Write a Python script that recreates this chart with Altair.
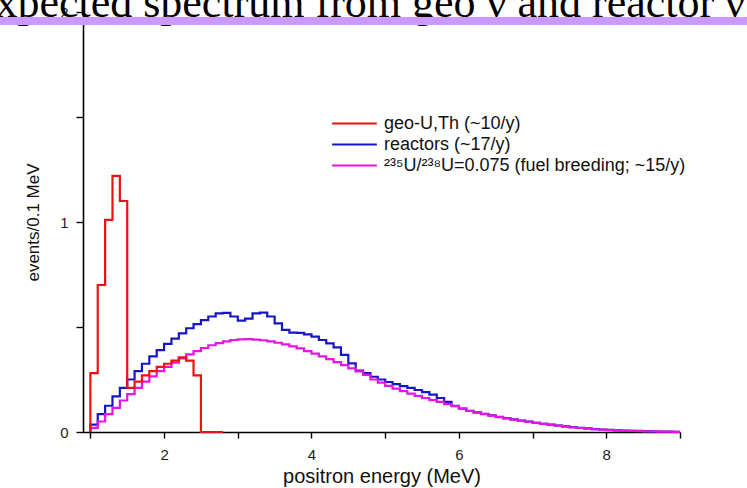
import altair as alt
import pandas as pd

TITLE = "Expected spectrum from geo \u03bd and reactor \u03bd"
SERIES = ["geo-U,Th (~10/y)", "reactors (~17/y)",
          "\u00b2\u00b3\u2075U/\u00b2\u00b3\u2078U=0.075 (fuel breeding; ~15/y)"]
COLORS = ["#ee1111", "#1616c4", "#e514e5"]

BIN_WIDTH = 0.1
FIRST_EDGE = 1.0

# geo-neutrino histogram, bins starting at 1.0 MeV
GEO = [0.28, 0.70, 1.01, 1.22, 1.10, 0.21, 0.24, 0.27, 0.29, 0.31,
       0.325, 0.34, 0.355, 0.34, 0.27]
GEO_ZERO_END = 2.8

REACTORS = [0.035, 0.085, 0.125, 0.17, 0.21, 0.25, 0.29, 0.325, 0.36, 0.39,
            0.42, 0.445, 0.47, 0.494, 0.514, 0.533, 0.55, 0.565, 0.567, 0.55,
            0.53, 0.54, 0.565, 0.568, 0.55, 0.517, 0.486, 0.473, 0.472, 0.465,
            0.454, 0.438, 0.422, 0.403, 0.367, 0.327, 0.292, 0.28, 0.263, 0.25,
            0.238, 0.228, 0.218, 0.21, 0.2, 0.19, 0.178, 0.162, 0.143, 0.125,
            0.112, 0.101, 0.093, 0.086, 0.079, 0.072, 0.066, 0.06, 0.054, 0.049,
            0.044, 0.039, 0.035, 0.031, 0.027, 0.023, 0.02, 0.017, 0.014, 0.012,
            0.01, 0.008, 0.007, 0.006, 0.005, 0.004, 0.003, 0.002, 0.002, 0.001]

BREEDING = [0.02, 0.05, 0.085, 0.115, 0.15, 0.18, 0.21, 0.24, 0.265, 0.29,
            0.31, 0.33, 0.35, 0.37, 0.385, 0.4, 0.413, 0.423, 0.432, 0.438,
            0.441, 0.442, 0.44, 0.437, 0.432, 0.425, 0.417, 0.408, 0.398, 0.385,
            0.373, 0.36, 0.347, 0.333, 0.318, 0.303, 0.289, 0.272, 0.25, 0.235,
            0.22, 0.207, 0.195, 0.183, 0.172, 0.162, 0.152, 0.143, 0.133, 0.123,
            0.111, 0.1, 0.092, 0.085, 0.078, 0.071, 0.065, 0.059, 0.053, 0.048,
            0.044, 0.039, 0.034, 0.03, 0.026, 0.022, 0.019, 0.016, 0.013, 0.011,
            0.009, 0.007, 0.006, 0.005, 0.004, 0.003, 0.003, 0.002, 0.002, 0.001]

X_TICKS = [1, 2, 3, 4, 5, 6, 7, 8, 9]
Y_TICKS = [0, 0.5, 1, 1.5, 2]


def step_rows(name, values, zero_end=None):
    rows = [(FIRST_EDGE, 0.0)]
    for i, v in enumerate(values):
        rows.append((round(FIRST_EDGE + i * BIN_WIDTH, 2), v))
    end = round(FIRST_EDGE + len(values) * BIN_WIDTH, 2)
    if zero_end is None:
        rows.append((end, values[-1]))
    else:
        rows.append((end, 0.0))
        rows.append((zero_end, 0.0))
    return pd.DataFrame({"e": [r[0] for r in rows], "v": [r[1] for r in rows],
                         "i": list(range(len(rows))), "s": name})


geo_df = step_rows(SERIES[0], GEO, GEO_ZERO_END)
rea_df = step_rows(SERIES[1], REACTORS)
bre_df = step_rows(SERIES[2], BREEDING)

xscale = alt.Scale(domain=[0.9, 9.0], nice=False, zero=False)
yscale = alt.Scale(domain=[0, 2], nice=False)
cscale = alt.Scale(domain=SERIES, range=COLORS)

xaxis = alt.Axis(values=X_TICKS, title="positron energy (MeV)",
                 labelExpr="datum.value % 2 === 0 ? format(datum.value, 'd') : ''",
                 grid=False, tickSize=6, labelPadding=9, titlePadding=4,
                 titleFontSize=20,
                 domainWidth=1.6, tickWidth=1.4)
yaxis = alt.Axis(values=Y_TICKS, title="events/0.1 MeV",
                 labelExpr="datum.value % 1 === 0 ? format(datum.value, 'd') : ''",
                 grid=False, tickSize=7, labelPadding=8, titlePadding=17,
                 titleFontSize=17,
                 domainWidth=1.6, tickWidth=1.4)

legend = alt.Legend(title=None, orient="none", legendX=248, legendY=101,
                    symbolType="stroke", symbolSize=2000, symbolStrokeWidth=2,
                    labelFontSize=18, labelFont="Liberation Sans",
                    labelColor="#111111", clipHeight=21, labelOffset=6,
                    labelLimit=500, rowPadding=0)


def layer(df, show_legend):
    return alt.Chart(df).mark_line(interpolate="step-after", strokeWidth=2.2).encode(
        x=alt.X("e:Q", scale=xscale, axis=xaxis),
        y=alt.Y("v:Q", scale=yscale, axis=yaxis),
        color=alt.Color("s:N", scale=cscale, legend=legend if show_legend else None),
        order=alt.Order("i:Q"),
    )


deco = pd.DataFrame({"t": [TITLE]})
title = alt.Chart(deco).mark_text(font="Liberation Serif", fontSize=44,
                                  align="right", baseline="alphabetic",
                                  color="#000000").encode(
    text="t:N", x=alt.value(662), y=alt.value(5))
bar = alt.Chart(deco).mark_rect(color="#cc99ff").encode(
    x=alt.value(-83), x2=alt.value(664), y=alt.value(5), y2=alt.value(13))

chart = alt.layer(
    layer(rea_df, True), layer(bre_df, False), layer(geo_df, False), title, bar
).properties(
    width=597, height=420,
    autosize=alt.AutoSizeParams(type="none"),
    padding={"left": 83, "top": 12, "right": 67, "bottom": 56},
).configure_view(stroke=None).configure_axis(
    labelFont="Liberation Sans", titleFont="Liberation Sans",
    labelFontSize=15, titleFontWeight="normal",
    labelColor="#222222", titleColor="#111111",
    domainColor="#000000", tickColor="#000000",
)

chart.save("out.html", embed_options={"renderer": "svg", "actions": False})
